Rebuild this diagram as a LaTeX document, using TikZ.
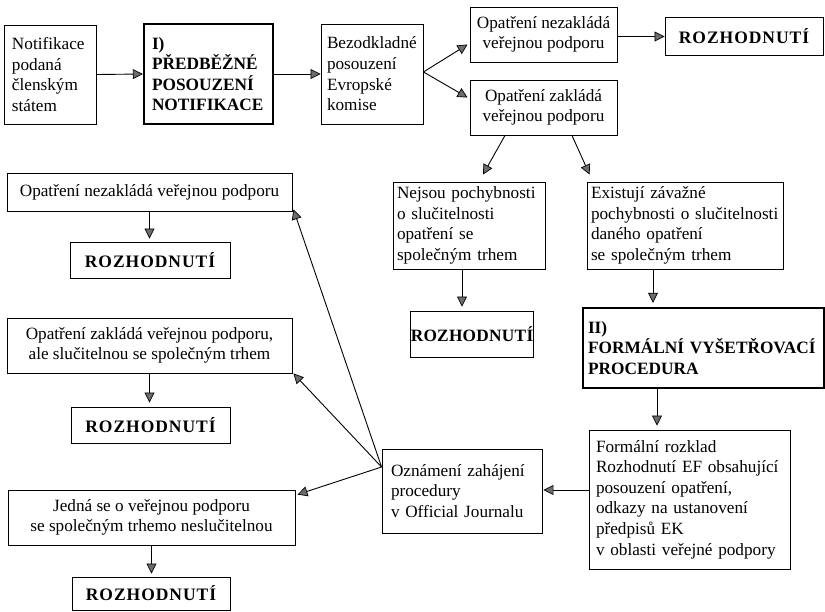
\documentclass[tikz,border=0pt]{standalone}
\usepackage{fontspec}
\setmainfont{Liberation Serif}
\usetikzlibrary{arrows.meta}
\newcommand{\rozh}{{\bfseries\addfontfeature{LetterSpace=5.5}\fontsize{17.5}{20}\selectfont ROZHODNUTÍ}}
\newcommand{\rozhn}{{\bfseries\addfontfeature{LetterSpace=1.5}\fontsize{17.3}{20}\selectfont ROZHODNUTÍ}}
\begin{document}
\begin{tikzpicture}[x=1pt,y=-1pt,
  every node/.style={font=\fontsize{17.2}{20.6}\selectfont},
  box/.style={draw, line width=0.9pt, inner sep=0pt},
  heavy/.style={draw, line width=2.4pt, inner sep=0pt},
  bx/.style 2 args={minimum width=#1pt, minimum height=#2pt},
  arr/.style={line width=0.9pt, -{Triangle[length=10pt,width=10pt,fill=gray!85!black,line width=0.7pt]}},
  bold/.style={font=\bfseries\fontsize{17.3}{20.6}\selectfont}
]
\useasboundingbox (0,0) rectangle (825,611);
\fill[white] (0,0) rectangle (825,611);

% top row
\node[box, bx={92}{99}, text width=76pt, align=left] (A) at (50,74.5)
  {Notifikace\\podaná\\členským\\státem};
\node[heavy, bx={129}{100}, text width=113pt, align=left, bold] (B) at (208.5,74)
  {I)\\PŘEDBĚŽNÉ\\POSOUZENÍ\\NOTIFIKACE};
\node[box, bx={102}{100}, text width=90pt, align=left] (C) at (372,74)
  {Bezodkladné\\posouzení\\Evropské\\komise};
\node[box, bx={147}{55}, align=center] (D) at (543.5,34.5)
  {Opatření nezakládá\\veřejnou podporu};
\node[box, bx={158}{38}] (E) at (744,36) {\rozh};
\node[box, bx={147}{55}, align=center] (F) at (543.5,107.5)
  {Opatření zakládá\\veřejnou podporu};

% middle right
\node[box, bx={152}{87}, text width=144pt, align=left] (G) at (469,225.5)
  {Nejsou pochybnosti\\o slučitelnosti\\opatření se\\společným trhem};
\node[box, bx={196}{87}, text width=188pt, align=left] (H) at (685,225.5)
  {Existují závažné\\pochybnosti o slučitelnosti\\daného opatření\\se společným trhem};
\node[box, bx={122}{46}] (G2) at (472,334) {\rozhn};
\node[heavy, bx={241}{80}, text width=231pt, align=left, bold] (II) at (703.5,348)
  {II)\\FORMÁLNÍ VYŠETŘOVACÍ\\PROCEDURA};
\node[box, bx={201}{139}, text width=187pt, align=left] (FR) at (689.5,499.5)
  {Formální rozklad\\Rozhodnutí EF obsahující\\posouzení opatření,\\odkazy na ustanovení\\předpisů EK\\v oblasti veřejné podpory};
\node[box, bx={160}{84}, text width=142pt, align=left] (OZ) at (462,491)
  {Oznámení zahájení\\procedury\\v Official Journalu};

% left column
\node[box, bx={285}{38}, align=center] (I) at (149.5,192)
  {Opatření nezakládá veřejnou podporu};
\node[box, bx={160}{36}] (I2) at (150,260) {\rozh};
\node[box, bx={285}{55}, align=center] (J) at (149.5,345.5)
  {Opatření zakládá veřejnou podporu,\\ale slučitelnou se společným trhem};
\node[box, bx={159}{36}] (J2) at (150.5,425) {\rozh};
\node[box, bx={287}{55}, align=center] (K) at (151.5,517.5)
  {Jedná se o veřejnou podporu\\se společným trhemo neslučitelnou};
\node[box, bx={158}{33}] (K2) at (151,593.5) {\rozh};

\coordinate (oz) at ([yshift=24pt]OZ.west);
\coordinate (cb) at ([yshift=2pt]C.east);

% connectors
\draw[arr] (A.east) -- (B.west);
\draw[arr] (B.east) -- (C.west);
\draw[arr] (cb) -- ([xshift=-2pt,yshift=-10pt]D.west);
\draw[arr] (cb) -- ([xshift=-2pt,yshift=10pt]F.west);
\draw[arr] ([yshift=-2pt]D.east) -- ([yshift=-2pt]D.east -| E.west);
\draw[arr] ([xshift=-38.5pt]F.south) -- ([xshift=14pt,yshift=7pt]G.north);
\draw[arr] ([xshift=28.5pt]F.south) -- ([xshift=3pt,yshift=7pt]H.north west);
\draw[arr] ([xshift=-7pt]G.south) -- ([xshift=-7pt,yshift=4pt]G.south |- G2.north);
\draw[arr] ([xshift=-32pt]H.south) -- ([xshift=-32pt,yshift=4pt]H.south |- II.north);
\draw[arr] ([xshift=-46.5pt]II.south) -- ([xshift=-46.5pt,yshift=4pt]II.south |- FR.north);
\draw[arr] ([yshift=9.5pt]FR.west) -- ([yshift=9.5pt,xshift=1pt]FR.west -| OZ.east);
\draw[arr] (oz) -- ([xshift=1pt,yshift=2pt]I.south east);
\draw[arr] (oz) -- ([xshift=1pt]J.south east);
\draw[arr] (oz) -- ([xshift=2pt,yshift=-5pt]K.north east);
\draw[arr] (I.south) -- ([yshift=3pt]I.south |- I2.north);
\draw[arr] (J.south) -- ([yshift=4pt]J.south |- J2.north);
\draw[arr] (K.south) -- ([yshift=3pt]K.south |- K2.north);
\end{tikzpicture}
\end{document}
